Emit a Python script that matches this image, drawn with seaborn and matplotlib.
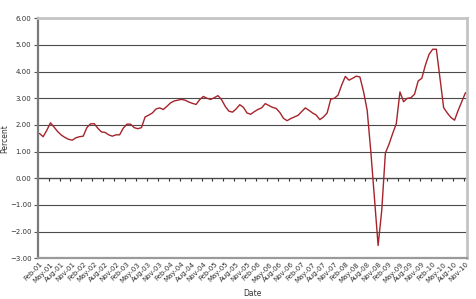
import numpy as np
import pandas as pd
import matplotlib
matplotlib.use("Agg")
import matplotlib.pyplot as plt
import seaborn as sns

# ---- data (monthly, Feb-01 .. Nov-10) ----
months = pd.date_range("2001-02-01", periods=118, freq="MS").strftime("%b-%y").tolist()
percent = [
    1.68, 1.56, 1.80, 2.08, 1.92, 1.75, 1.62, 1.53, 1.46, 1.43,
    1.52, 1.56, 1.58, 1.90, 2.04, 2.05, 1.88, 1.74, 1.72, 1.63,
    1.58, 1.63, 1.63, 1.88, 2.03, 2.03, 1.90, 1.86, 1.90, 2.30,
    2.37, 2.45, 2.60, 2.64, 2.58, 2.70, 2.83, 2.90, 2.93, 2.96,
    2.93, 2.86, 2.81, 2.77, 2.95, 3.07, 3.00, 2.96, 3.02, 3.10,
    2.95, 2.70, 2.52, 2.48, 2.60, 2.76, 2.66, 2.45, 2.40, 2.50,
    2.58, 2.64, 2.80, 2.73, 2.66, 2.62, 2.47, 2.25, 2.16, 2.24,
    2.30, 2.36, 2.50, 2.64, 2.55, 2.45, 2.37, 2.20, 2.30, 2.45,
    2.97, 3.00, 3.12, 3.50, 3.82, 3.68, 3.75, 3.83, 3.80, 3.25,
    2.55, 1.00, -0.75, -2.52, -1.20, 0.95, 1.28, 1.68, 2.05, 3.24,
    2.87, 3.00, 3.02, 3.15, 3.65, 3.75, 4.25, 4.65, 4.84, 4.84,
    3.75, 2.65, 2.45, 2.28, 2.18, 2.55, 2.88, 3.21,
]
y_ticks = [-3, -2, -1, 0, 1, 2, 3, 4, 5, 6]

df = pd.DataFrame({"idx": np.arange(len(percent)), "Date": months, "Percent": percent})

sns.set_style("white")
plt.rcParams["font.family"] = ["DejaVu Sans"]

fig = plt.figure(figsize=(4.76, 2.99), dpi=100)
ax = fig.add_axes([37.7 / 476, 1 - 258.3 / 299, (467.3 - 37.7) / 476, (258.3 - 18.3) / 299])

# gridlines
for v in y_ticks[1:-1]:
    ax.axhline(v, color="#4a4a4a", lw=0.8, zorder=1)

sns.lineplot(data=df, x="idx", y="Percent", ax=ax, color="#a6232b", lw=1.0, zorder=3)

ax.set_xlim(-0.5, len(percent) - 0.5)
ax.set_ylim(y_ticks[0], y_ticks[-1])

# y axis
ax.set_yticks(y_ticks)
ax.set_yticklabels([f"{v:.2f}".replace("-", "\u2212") for v in y_ticks])
ax.tick_params(axis="y", direction="out", length=3, width=0.8, color="#555555",
               labelsize=5, labelcolor="#333333", pad=1.5, left=True)

# x axis labels at bottom
ax.set_xticks(df["idx"][::3])
ax.set_xticklabels(df["Date"][::3], rotation=45, ha="right", rotation_mode="anchor")
ax.tick_params(axis="x", length=0, labelsize=5, labelcolor="#333333", pad=2)

ax.set_xlabel("Date", fontsize=5.5, color="#333333", labelpad=4)
ax.set_ylabel("Percent", fontsize=5.5, color="#333333")
ax.yaxis.set_label_coords(-0.066, 0.5)

# horizontal axis line at zero with tick marks between categories
sec = ax.secondary_xaxis((0 - y_ticks[0]) / (y_ticks[-1] - y_ticks[0]))
sec.set_xticks(np.arange(2.5, len(percent), 3))
sec.tick_params(axis="x", direction="out", length=2.5, width=0.8, color="#333333", labelbottom=False, labeltop=False)
sec.spines["bottom"].set_color("#333333")
sec.spines["bottom"].set_linewidth(0.9)

# frame
ax.spines["left"].set_color("#7a7a7a")
ax.spines["left"].set_linewidth(1.6)
ax.spines["bottom"].set_color("#9a9a9a")
ax.spines["bottom"].set_linewidth(1.6)
ax.spines["top"].set_color("#c4c4c4")
ax.spines["top"].set_linewidth(2.0)
ax.spines["right"].set_color("#c4c4c4")
ax.spines["right"].set_linewidth(2.0)

fig.savefig("out.png", dpi=100)
